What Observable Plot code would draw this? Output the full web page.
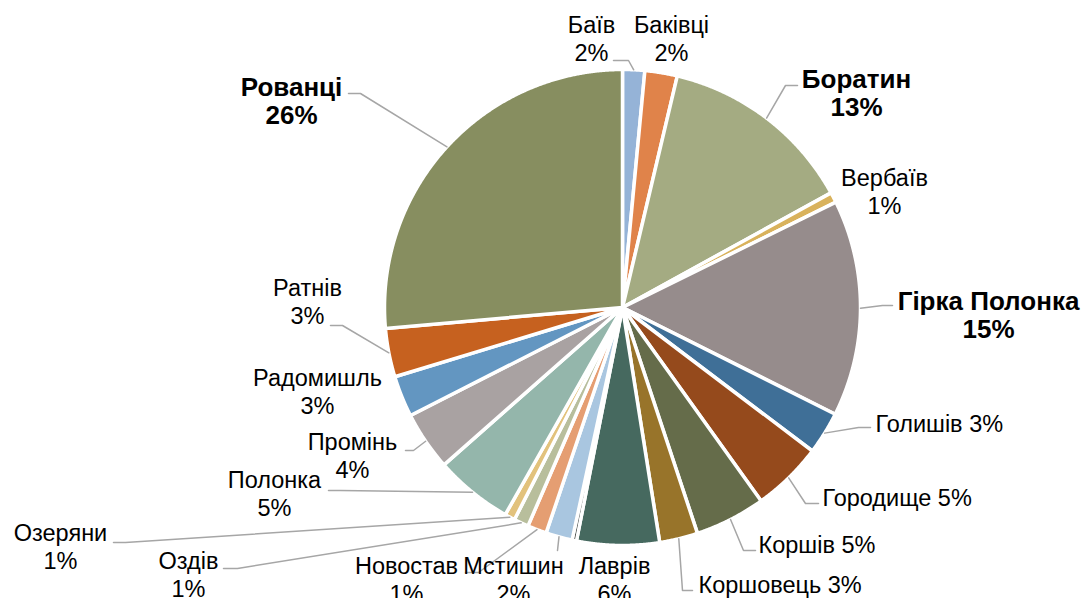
<!DOCTYPE html>
<html>
<head>
<meta charset="utf-8">
<script src="https://cdn.jsdelivr.net/npm/d3@7"></script>
<script src="https://cdn.jsdelivr.net/npm/@observablehq/plot@0.6"></script>
<style>
  html, body { margin: 0; padding: 0; background: #fff; }
  #chart svg { display: block; }
</style>
</head>
<body>
<div id="chart"></div>
<script>
// ---- data ----
const names = ["Баїв", "Баківці", "Боратин", "Вербаїв", "Гірка Полонка", "Голишів", "Городище",
  "Коршів", "Коршовець", "Лаврів", "", "Мстишин", "Новостав", "Оздів", "Озеряни",
  "Полонка", "Промінь", "Радомишль", "Ратнів", "Рованці"];
const shares = [1.5, 2.2, 13.3, 0.7, 14.7, 2.9, 4.8, 4.8, 2.6, 5.6, 0.3, 1.8, 1.3, 1.0, 0.7,
  5.3, 4.0, 2.8, 3.3, 26.4];

// ---- styles ----
const palette = ["#95B3D7", "#E0834A", "#A4AB82", "#D9B25C", "#968C8C", "#3F6F97", "#954A1C",
  "#656C4A", "#98742A", "#46695F", "#3A3F3C", "#A9C6E0", "#E59E72", "#B8BE9C", "#E2C27C",
  "#94B6AB", "#A9A2A2", "#6396C1", "#C6611F", "#878E60"];

// ---- layout (pixel offsets from pie centre) ----
const W = 1083, H = 598, CX = 622, CY = 307, R = 238;
const labelLayout = [
  {i: 0, x: -31, y: -247, two: true, lead: [-9, -247], elbow: 15},
  {i: 1, x: 49, y: -247, two: true},
  {i: 2, x: 234, y: -192, two: true, bold: true, lead: [175, -222], elbow: -12},
  {i: 3, x: 262, y: -94, two: true},
  {i: 4, x: 366, y: 30, two: true, bold: true, lead: [270, -2], elbow: -10},
  {i: 5, x: 253, y: 124, two: false, lead: [248, 120], elbow: -12},
  {i: 6, x: 200, y: 198, two: false, lead: [196, 196], elbow: -13},
  {i: 7, x: 136, y: 245, two: false, lead: [133, 243], elbow: -12},
  {i: 8, x: 76, y: 285, two: false, lead: [70, 283], elbow: -10},
  {i: 9, x: -8, y: 294, two: true},
  {i: 11, x: -109, y: 294, two: true, lead: [-65, 243], elbow: 0},
  {i: 12, x: -216, y: 294, two: true, lead: [-157, 265], elbow: 13},
  {i: 13, x: -434, y: 289, two: true, lead: [-399, 261], elbow: 14},
  {i: 14, x: -562, y: 261, two: true, lead: [-509, 235], elbow: 12},
  {i: 15, x: -348, y: 208, two: true, lead: [-294, 183], elbow: 12},
  {i: 16, x: -270, y: 170, two: true, lead: [-217, 143], elbow: 8},
  {i: 17, x: -305, y: 106, two: true},
  {i: 18, x: -315, y: 16, two: true, lead: [-292, 18], elbow: 12},
  {i: 19, x: -331, y: -184, two: true, bold: true, lead: [-274, -214], elbow: 12}
];

// ---- geometry from data ----
const total = d3.sum(shares);
const arcs = d3.pie().sort(null).value(d => d)(shares);
const slicePts = [];
arcs.forEach((a, i) => {
  slicePts.push({i, x: 0, y: 0});
  const n = Math.max(2, Math.ceil((a.endAngle - a.startAngle) / 0.004));
  for (let k = 0; k <= n; k++) {
    const t = a.startAngle + (a.endAngle - a.startAngle) * k / n;
    slicePts.push({i, x: Math.sin(t), y: Math.cos(t)});
  }
  slicePts.push({i, x: 0, y: 0});
});

const pct = i => Math.round(100 * shares[i] / total) + "%";
const labelText = d => d.two ? `${names[d.i]}\n${pct(d.i)}` : `${names[d.i]} ${pct(d.i)}`;
const ux = px => px / R, uy = py => -py / R;

const leadPts = [];
labelLayout.filter(d => d.lead).forEach(d => {
  const a = arcs[d.i];
  const m = (a.startAngle + a.endAngle) / 2;
  leadPts.push({k: d.i, x: Math.sin(m), y: Math.cos(m)});
  leadPts.push({k: d.i, x: ux(d.lead[0] + d.elbow), y: uy(d.lead[1])});
  leadPts.push({k: d.i, x: ux(d.lead[0]), y: uy(d.lead[1])});
});

const font = "'Liberation Sans', Arial, sans-serif";
const textOpts = (size, extra) => Object.assign({
  x: d => ux(d.x), y: d => uy(d.y), text: labelText,
  fontSize: size, fontFamily: font, fill: "#000",
  lineAnchor: "bottom", lineHeight: 28 / size
}, extra);

const chart = Plot.plot({
  width: W, height: H,
  marginTop: 0, marginRight: 0, marginBottom: 0, marginLeft: 0,
  x: {domain: [-CX / R, (W - CX) / R], axis: null},
  y: {domain: [-(H - CY) / R, CY / R], axis: null},
  color: {type: "ordinal", domain: d3.range(names.length), range: palette},
  style: {fontFamily: font, background: "#fff"},
  marks: [
    Plot.line(slicePts, {x: "x", y: "y", z: "i", fill: "i", stroke: "#fff",
      strokeWidth: 3.5, strokeLinejoin: "round", curve: "linear"}),
    Plot.line(leadPts, {x: "x", y: "y", z: "k", stroke: "#A6A6A6", strokeWidth: 1.5}),
    Plot.text(labelLayout.filter(d => d.two && !d.bold), textOpts(23.5, {textAnchor: "middle"})),
    Plot.text(labelLayout.filter(d => d.two && d.bold), textOpts(26, {textAnchor: "middle", fontWeight: "bold"})),
    Plot.text(labelLayout.filter(d => !d.two), textOpts(23.5, {textAnchor: "start"}))
  ]
});
document.getElementById("chart").appendChild(chart);
</script>
</body>
</html>
